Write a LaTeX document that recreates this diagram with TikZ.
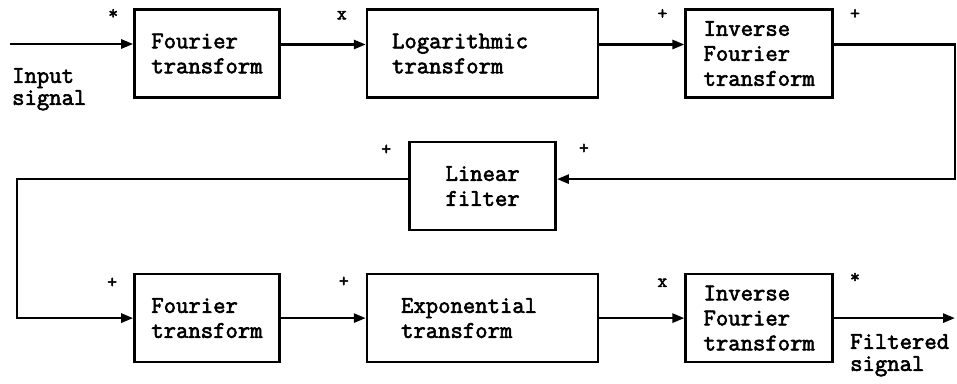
\documentclass[tikz,border=0pt]{standalone}
\usepackage{fontspec}
\setmonofont{Latin Modern Mono}[BoldFont={Latin Modern Mono},BoldFeatures={FakeBold=2.5}]
\usepackage{tikz}
\usetikzlibrary{arrows.meta,positioning}

\begin{document}
\begin{tikzpicture}[
  x=1pt,y=-1pt,
  font=\ttfamily\bfseries\fontsize{24}{25}\selectfont,
  every matrix/.style={ampersand replacement=\&,column sep=85pt,row sep=174pt,inner sep=0pt},
  block/.style={draw,line width=2.6pt,minimum height=88pt,inner sep=0pt,align=left},
  sign/.style={inner sep=0pt,font=\ttfamily\bfseries\fontsize{19}{19}\selectfont},
  port/.style={inner sep=0pt,align=left,font=\ttfamily\bfseries\fontsize{24}{22}\selectfont},
  to/.style={-{Triangle[length=12pt,width=9pt]},line width=2.6pt}]

  \useasboundingbox (0,0) rectangle (957,383);

  % Forward path and return path blocks
  \matrix[anchor=north west] at (133,8) {
    \node[block,minimum width=145pt] (FT) {Fourier\\transform};
      \& \node[block,inner xsep=25pt,text width=181pt] (LT) {Logarithmic\\transform};
      \& \node[block,minimum width=147pt] (IFT) {Inverse\\Fourier\\transform}; \\
    \node[block,minimum width=145pt] (FTb) {Fourier\\transform};
      \& \node[block,inner xsep=34pt,text width=163pt] (EXP) {Exponential\\transform};
      \& \node[block,minimum width=147pt] (IFTb) {Inverse\\Fourier\\transform}; \\
  };
  \node[block,minimum width=146pt,below=42pt of LT] (LF) {Linear\\filter};

  % Ends and turning points of the signal path
  \coordinate (src) at (10,44);
  \coordinate (rturn) at (955,0);
  \coordinate (lturn) at (17,0);
  \coordinate (snk) at (955,0);
  \coordinate (fbin) at ([yshift=7pt]LF.east);
  \coordinate (fbout) at ([yshift=7pt]LF.west);

  \node[port,anchor=north west] (insig) at (12,68) {Input\\signal};
  \node[port,anchor=north west] (outsig) at (850,334) {Filtered\\signal};

  % Connectors
  \draw[to] (src) -- (src -| FT.west);
  \draw[to] ([yshift=9pt]FT.east) -- ([yshift=9pt]LT.west);
  \draw[to] ([yshift=9pt]LT.east) -- ([yshift=9pt]IFT.west);
  \draw[to] ([yshift=9pt]IFT.east) -| (rturn |- fbin) -- (fbin);
  \draw[to] (fbout) -| (lturn |- FTb) -- (FTb);
  \draw[to] (FTb) -- (EXP);
  \draw[to] (EXP) -- (IFTb);
  \draw[to] (IFTb) -- (IFTb -| snk);

  % Operation signs at the block inputs and outputs
  \node[sign] (s1) at ([shift={(-20,6)}]FT.north west) {*};
  \node[sign] (s2) at ([shift={(-24,7)}]LT.north west) {x};
  \node[sign] (s3) at ([shift={(-22,6)}]IFT.north west) {+};
  \node[sign] (s4) at ([shift={(21,6)}]IFT.north east) {+};
  \node[sign] (s5) at ([shift={(-22,9)}]LF.north west) {+};
  \node[sign] (s6) at ([shift={(27,8)}]LF.north east) {+};
  \node[sign] (s7) at ([shift={(-21,10)}]FTb.north west) {+};
  \node[sign] (s8) at ([shift={(-22,9)}]EXP.north west) {+};
  \node[sign] (s9) at ([shift={(-22,10)}]IFTb.north west) {x};
  \node[sign] (s10) at ([shift={(21,5)}]IFTb.north east) {*};
\end{tikzpicture}
\end{document}
